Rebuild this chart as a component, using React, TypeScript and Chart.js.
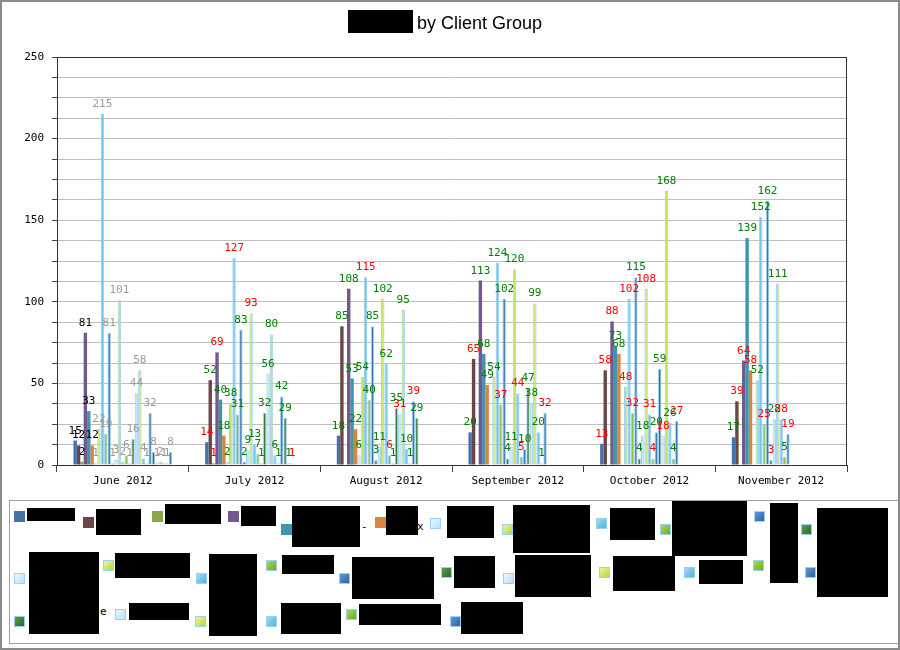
import { useEffect, useRef } from 'react';
import { Chart, registerables } from 'chart.js';

Chart.register(...registerables);

// values, one array per month, 29 client groups each
const months = ['June 2012', 'July 2012', 'August 2012', 'September 2012', 'October 2012', 'November 2012'];
const june = [15, 12, 2, 81, 33, 12, 1, 22, 215, 19, 81, 1, 3, 101, 2, 6, 1, 16, 44, 58, 4, 1, 32, 8, 1, 2, 1, 1, 8];
const july = [14, 52, 1, 69, 40, 18, 2, 38, 127, 31, 83, 2, 9, 93, 13, 7, 1, 32, 56, 80, 6, 1, 42, 29, 1, 1, 0, 0, 0];
const august = [18, 85, 0, 108, 53, 22, 6, 54, 115, 40, 85, 3, 11, 102, 62, 6, 1, 35, 31, 95, 10, 1, 39, 29, 0, 0, 0, 0, 0];
const september = [20, 65, 0, 113, 68, 49, 0, 54, 124, 37, 102, 4, 11, 120, 44, 5, 10, 47, 38, 99, 20, 1, 32, 0, 0, 0, 0, 0, 0];
const october = [13, 58, 0, 88, 73, 68, 0, 48, 102, 32, 115, 4, 18, 108, 31, 4, 20, 59, 18, 168, 26, 4, 27, 0, 0, 0, 0, 0, 0];
const november = [17, 39, 0, 64, 139, 58, 0, 52, 152, 25, 162, 3, 28, 111, 28, 5, 19, 0, 0, 0, 0, 0, 0, 0, 0, 0, 0, 0, 0];
const monthValues = [june, july, august, september, october, november];
const yTicks = [0, 50, 100, 150, 200, 250];

// series names are blacked out in the reference
const groupNames = [
    'Group 1', 'Group 2', 'Group 3', 'Group 4', 'Group 5', 'Group 6', 'Group 7', 'Group 8', 'Group 9', 'Group 10',
    'Group 11', 'Group 12', 'Group 13', 'Group 14', 'Group 15', 'Group 16', 'Group 17', 'Group 18', 'Group 19', 'Group 20',
    'Group 21', 'Group 22', 'Group 23', 'Group 24', 'Group 25', 'Group 26', 'Group 27', 'Group 28', 'Group 29',
];

const solidColors = ['#4572a7', '#6b4646', '#89a54e', '#71588f', '#3d96ae', '#db843d'];
const cycleFills = ['#c6e7f7', '#c9e462', '#6cc4ea', '#86c23a', '#3b78b6', '#3c7a3c'];
const cycleGradients = [
    ['#eef8fd', '#b8e0f4'],
    ['#e8f79a', '#b5d63e'],
    ['#a0daf3', '#4db4e0'],
    ['#aadb55', '#6aab26'],
    ['#609ad2', '#2a62a0'],
    ['#5e9c4e', '#2c682c'],
];
const cycleBorder = '#9dd1f1';

const fillFor = (i: number) => (i < 6 ? solidColors[i] : cycleFills[(i - 6) % 6]);

// legend swatch spots and the redaction boxes over the legend text
const legendSpots = [
    [14, 511], [83, 517], [152, 511], [228, 511], [281, 524], [375, 517], [430, 518], [502, 524], [596, 518], [660, 524], [754, 511], [801, 524],
    [14, 573], [103, 560], [196, 573], [266, 560], [339, 573], [441, 567], [503, 573], [599, 567], [684, 567], [753, 560], [805, 567],
    [14, 616], [115, 609], [195, 616], [266, 616], [346, 609], [450, 616],
];
const redactions = [
    [27, 508, 48, 13], [96, 509, 45, 26], [165, 504, 56, 20], [241, 506, 35, 20], [292, 506, 68, 41], [386, 506, 32, 29],
    [447, 506, 47, 32], [513, 505, 77, 48], [610, 508, 45, 32], [672, 501, 75, 55], [770, 503, 28, 80], [817, 508, 71, 89],
    [29, 552, 70, 82], [115, 553, 75, 25], [209, 554, 48, 82], [282, 555, 52, 19], [352, 557, 82, 42], [454, 556, 41, 32],
    [515, 555, 76, 42], [613, 556, 62, 35], [699, 560, 44, 24], [461, 602, 62, 32], [129, 603, 60, 17], [281, 603, 60, 31],
    [359, 604, 82, 21],
];
const fragments = [['-', 361, 520], ['x', 417, 520], ['e', 100, 605]];

function labelColor(series: number, month: number) {
    const v = monthValues[month][series];
    if (month === 0) return series < 6 ? '#000000' : '#9a9a9a';
    return v >= monthValues[month - 1][series] ? '#008000' : '#ff0000';
}

const valueLabels = {
    id: 'valueLabels',
    afterDatasetsDraw(chart: any) {
        const ctx = chart.ctx;
        ctx.save();
        ctx.font = '11px "DejaVu Sans Mono", monospace';
        ctx.textAlign = 'center';
        ctx.textBaseline = 'alphabetic';
        chart.data.datasets.forEach((ds: any, si: number) => {
            chart.getDatasetMeta(si).data.forEach((bar: any, mi: number) => {
                const v = ds.data[mi];
                if (!v) return;
                ctx.fillStyle = labelColor(si, mi);
                ctx.fillText(String(v), bar.x, bar.y - 7);
            });
        });
        ctx.restore();
    },
};

const plotFrame = {
    id: 'plotFrame',
    afterDraw(chart: any) {
        const { ctx, chartArea } = chart;
        ctx.save();
        ctx.strokeStyle = '#333333';
        ctx.lineWidth = 1;
        ctx.strokeRect(chartArea.left + 0.5, chartArea.top + 0.5, chartArea.right - chartArea.left - 1, chartArea.bottom - chartArea.top);
        ctx.restore();
    },
};

export default function App() {
    const canvasRef = useRef<HTMLCanvasElement>(null);

    useEffect(() => {
        document.body.style.margin = '0';
        const datasets = groupNames.map((name, i) => ({
            label: name,
            data: monthValues.map((m) => m[i]),
            backgroundColor: fillFor(i),
            borderColor: i < 6 ? fillFor(i) : cycleBorder,
            borderWidth: i < 6 ? 0 : 1,
        }));
        const chart = new Chart(canvasRef.current as HTMLCanvasElement, {
            type: 'bar',
            data: { labels: months, datasets },
            plugins: [valueLabels, plotFrame],
            options: {
                responsive: true,
                maintainAspectRatio: false,
                animation: false,
                layout: { padding: { left: 7, top: 57, right: 53, bottom: 0 } },
                datasets: { bar: { categoryPercentage: 0.75, barPercentage: 1 } },
                plugins: { legend: { display: false }, tooltip: { enabled: false } },
                scales: {
                    x: {
                        afterFit: (s: any) => { s.height = 30; },
                        grid: { drawOnChartArea: false, offset: true, tickLength: 7, tickColor: '#444444' },
                        border: { color: '#333333' },
                        ticks: { color: '#000', padding: 3, font: { family: '"DejaVu Sans Mono", monospace', size: 11 } },
                    },
                    y: {
                        min: 0,
                        max: 250,
                        afterFit: (s: any) => { s.width = 50; },
                        grid: { color: '#c0c0c0', tickColor: '#444444', tickLength: 5 },
                        border: { color: '#333333' },
                        ticks: {
                            stepSize: 12.5,
                            padding: 8,
                            color: '#000',
                            font: { family: '"DejaVu Sans Mono", monospace', size: 11 },
                            callback: (v: any) => (yTicks.includes(v) ? String(v) : ''),
                        },
                    },
                },
            },
        } as any);
        return () => chart.destroy();
    }, []);

    return (
        <div style={{ position: 'relative', width: 900, height: 650, background: '#fff', fontFamily: '"Liberation Sans", Arial, sans-serif' }}>
            <div style={{ position: 'absolute', left: 0, top: 0, width: 900, height: 495 }}>
                <canvas ref={canvasRef} />
            </div>
            <div style={{ position: 'absolute', left: 348, top: 10, width: 65, height: 23, background: '#000' }} />
            <div style={{ position: 'absolute', left: 417, top: 12, fontSize: 18, lineHeight: '22px', color: '#000', whiteSpace: 'nowrap' }}>
                by Client Group
            </div>
            <div style={{ position: 'absolute', left: 9, top: 500, width: 890, height: 144, border: '1px solid #a0a0a0', boxSizing: 'border-box' }} />
            {groupNames.map((name, i) => {
                const [x, y] = legendSpots[i];
                const g = i < 6 ? null : cycleGradients[(i - 6) % 6];
                return (
                    <div
                        key={name}
                        title={name}
                        style={{
                            position: 'absolute',
                            left: x,
                            top: y,
                            width: 11,
                            height: 11,
                            boxSizing: 'border-box',
                            background: g ? `linear-gradient(135deg, ${g[0]}, ${g[1]})` : solidColors[i],
                            border: g ? `1px solid ${cycleBorder}` : 'none',
                        }}
                    />
                );
            })}
            {fragments.map(([t, x, y], i) => (
                <div key={i} style={{ position: 'absolute', left: x as number, top: y as number, fontSize: 11, lineHeight: '14px', fontFamily: '"DejaVu Sans Mono", monospace' }}>
                    {t}
                </div>
            ))}
            {redactions.map(([x, y, w, h], i) => (
                <div key={i} style={{ position: 'absolute', left: x, top: y, width: w, height: h, background: '#000' }} />
            ))}
            <div style={{ position: 'absolute', left: 0, top: 0, width: 900, height: 650, border: '2px solid #8a8a8a', boxSizing: 'border-box', pointerEvents: 'none' }} />
        </div>
    );
}
